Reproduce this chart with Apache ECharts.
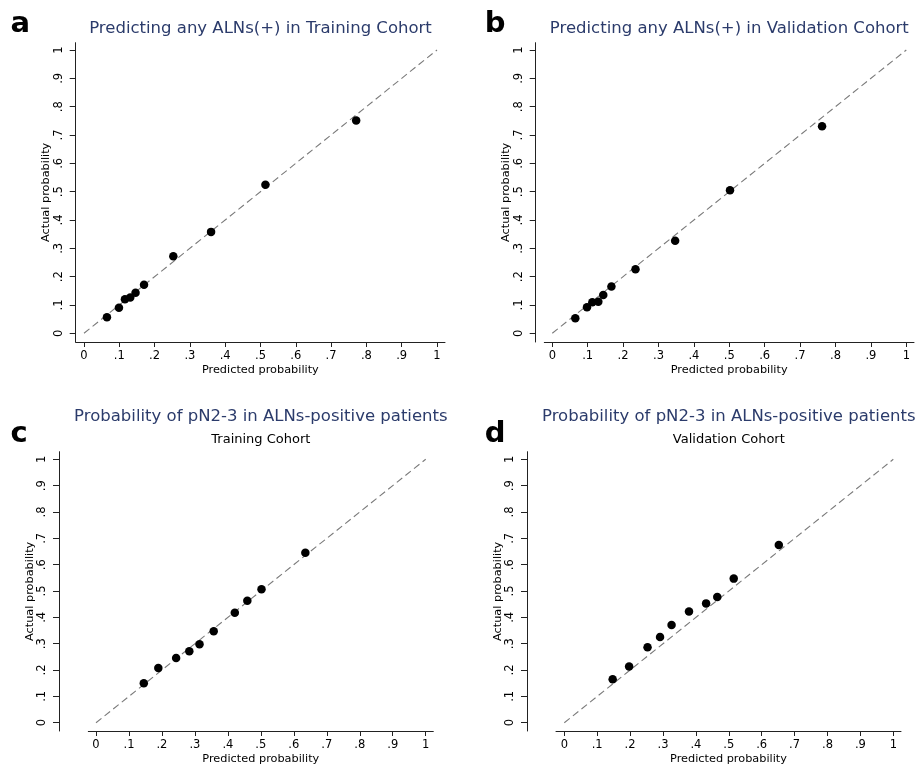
<!DOCTYPE html>
<html>
<head>
<meta charset="utf-8">
<script src="https://cdn.jsdelivr.net/npm/echarts@6/dist/echarts.min.js"></script>
<style>
  html, body { margin: 0; padding: 0; background: #fff; }
  #main { width: 921px; height: 767px; }
</style>
</head>
<body>
<div id="main"></div>
<script>
// tick values and their Stata-style labels
var tickValues = [0, 0.1, 0.2, 0.3, 0.4, 0.5, 0.6, 0.7, 0.8, 0.9, 1];
var tickLabels = ['0', '.1', '.2', '.3', '.4', '.5', '.6', '.7', '.8', '.9', '1'];

// perfect calibration reference line
var refLine = [[0, 0], [1, 1]];

// a: any ALNs(+), training cohort
var aPredicted = [0.065, 0.099, 0.116, 0.131, 0.146, 0.170, 0.253, 0.360, 0.514, 0.771];
var aActual    = [0.057, 0.090, 0.120, 0.126, 0.143, 0.171, 0.272, 0.358, 0.524, 0.751];
// b: any ALNs(+), validation cohort
var bPredicted = [0.065, 0.098, 0.113, 0.130, 0.144, 0.167, 0.235, 0.347, 0.502, 0.762];
var bActual    = [0.053, 0.092, 0.110, 0.111, 0.135, 0.165, 0.226, 0.327, 0.505, 0.731];
// c: pN2-3, training cohort
var cPredicted = [0.145, 0.189, 0.243, 0.283, 0.314, 0.357, 0.421, 0.459, 0.502, 0.635];
var cActual    = [0.150, 0.208, 0.246, 0.271, 0.298, 0.347, 0.417, 0.463, 0.507, 0.645];
// d: pN2-3, validation cohort
var dPredicted = [0.147, 0.197, 0.253, 0.291, 0.326, 0.379, 0.431, 0.465, 0.515, 0.652];
var dActual    = [0.165, 0.213, 0.286, 0.325, 0.371, 0.422, 0.453, 0.477, 0.547, 0.675];

var titles = [
    'Predicting any ALNs(+) in Training Cohort',
    'Predicting any ALNs(+) in Validation Cohort',
    'Probability of pN2-3 in ALNs-positive patients',
    'Probability of pN2-3 in ALNs-positive patients'
];
var subtitles = ['', '', 'Training Cohort', 'Validation Cohort'];
var letters = ['a', 'b', 'c', 'd'];

var FONT = '"DejaVu Sans", sans-serif';

// pixel layout of each panel: where 0 and 1 land, and how far the axis lines run
var panels = [
    {x0: 84, x1: 437, y0: 333.3, y1: 50, lineL: 75.7, lineR: 445, lineT: 42.7, lineB: 342, yAxisX: 75.7,
        nameGapY: 24, titleY: 29, subY: 0, letterX: 10.5, letterY: 24.5},
    {x0: 552.3, x1: 906.3, y0: 333.3, y1: 50, lineL: 544.3, lineR: 914, lineT: 42.7, lineB: 342, yAxisX: 535.7,
        nameGapY: 24, titleY: 29, subY: 0, letterX: 484.7, letterY: 24.5},
    {x0: 96, x1: 425.7, y0: 722.7, y1: 459.3, lineL: 88.3, lineR: 433.3, lineT: 451.7, lineB: 731, yAxisX: 59,
        nameGapY: 20, titleY: 416.5, subY: 440, letterX: 10.5, letterY: 434},
    {x0: 564.3, x1: 893.3, y0: 722.7, y1: 459.3, lineL: 556, lineR: 901, lineT: 451.7, lineB: 731, yAxisX: 527,
        nameGapY: 20, titleY: 416.5, subY: 440, letterX: 484.7, letterY: 434}
];

var seriesData = [
    [aPredicted, aActual],
    [bPredicted, bActual],
    [cPredicted, cActual],
    [dPredicted, dActual]
];

function fmtTick(v) {
    var i = Math.round(v * 10);
    return tickLabels[i];
}

var grids = [], xAxes = [], yAxes = [], series = [], graphics = [];

panels.forEach(function (p, i) {
    var xu = p.x1 - p.x0, yu = p.y0 - p.y1;
    grids.push({
        left: p.lineL, top: p.lineT,
        width: p.lineR - p.lineL, height: p.lineB - p.lineT,
        outerBoundsMode: 'none'
    });
    xAxes.push({
        type: 'value', gridIndex: i,
        min: (p.lineL - p.x0) / xu, max: (p.lineR - p.x0) / xu,
        name: 'Predicted probability', nameLocation: 'middle', nameGap: 23,
        nameTextStyle: {fontFamily: FONT, fontSize: 11.3, color: '#000'},
        axisLine: {show: true, onZero: false, lineStyle: {color: '#222', width: 1}},
        axisTick: {show: true, length: 5, customValues: tickValues, lineStyle: {color: '#222'}},
        axisLabel: {customValues: tickValues, formatter: fmtTick, margin: 8,
            fontFamily: FONT, fontSize: 11.5, color: '#000'},
        splitLine: {show: false}
    });
    yAxes.push({
        type: 'value', gridIndex: i,
        min: (p.y0 - p.lineB) / yu, max: (p.y0 - p.lineT) / yu,
        offset: p.lineL - p.yAxisX,
        name: 'Actual probability', nameLocation: 'middle', nameGap: p.nameGapY,
        nameTextStyle: {fontFamily: FONT, fontSize: 11.3, color: '#000'},
        axisLine: {show: true, onZero: false, lineStyle: {color: '#222', width: 1}},
        axisTick: {show: true, length: 6, customValues: tickValues, lineStyle: {color: '#222'}},
        axisLabel: {customValues: tickValues, formatter: fmtTick, margin: 11, rotate: 90,
            fontFamily: FONT, fontSize: 11.5, color: '#000'},
        splitLine: {show: false}
    });
    series.push({
        type: 'line', xAxisIndex: i, yAxisIndex: i,
        data: refLine, symbol: 'none', silent: true,
        lineStyle: {color: '#7a7a7a', width: 1.1, type: [7, 4]}
    });
    var pred = seriesData[i][0], act = seriesData[i][1];
    series.push({
        type: 'scatter', xAxisIndex: i, yAxisIndex: i, z: 3,
        data: pred.map(function (v, k) { return [v, act[k]]; }),
        symbol: 'circle', symbolSize: 8.5,
        itemStyle: {color: '#000', opacity: 1}
    });

    var cx = (p.x0 + p.x1) / 2;
    graphics.push({
        type: 'text', x: cx, y: p.titleY,
        style: {text: titles[i], font: '16.5px ' + FONT, fill: '#2b3b6b', align: 'center', verticalAlign: 'middle'}
    });
    if (subtitles[i]) {
        graphics.push({
            type: 'text', x: cx, y: p.subY,
            style: {text: subtitles[i], font: '13px ' + FONT, fill: '#000', align: 'center', verticalAlign: 'middle'}
        });
    }
    graphics.push({
        type: 'text', x: p.letterX, y: p.letterY,
        style: {text: letters[i], font: 'bold 29px ' + FONT, fill: '#000', align: 'left', verticalAlign: 'middle'}
    });
});

var myChart = echarts.init(document.getElementById('main'));
var option = {
    backgroundColor: '#fff',
    animation: false,
    grid: grids,
    xAxis: xAxes,
    yAxis: yAxes,
    series: series,
    graphic: graphics
};
myChart.setOption(option);
</script>
</body>
</html>
